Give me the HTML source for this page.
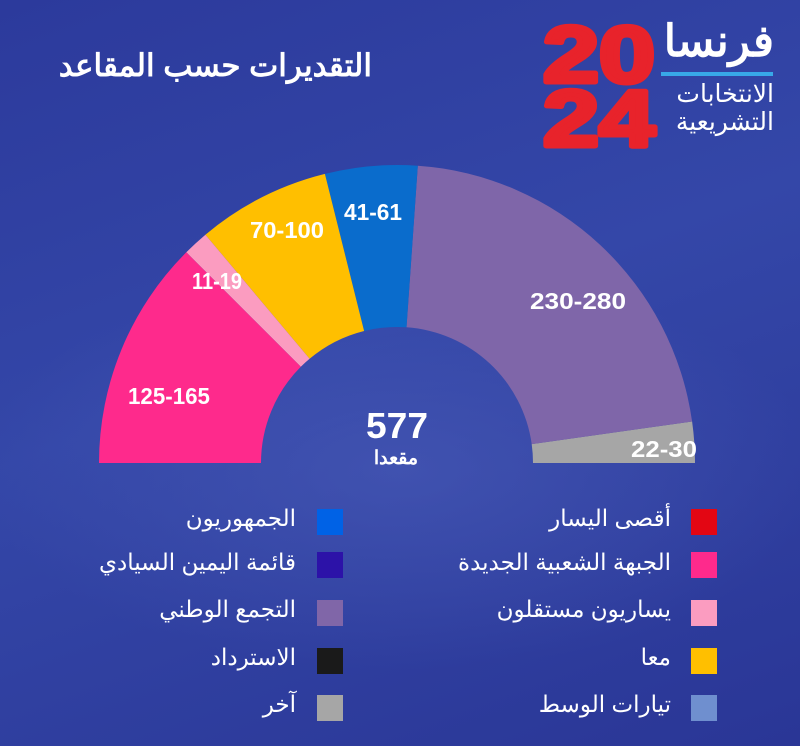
<!DOCTYPE html>
<html><head><meta charset="utf-8"><style>
html,body{margin:0;padding:0}
body{width:800px;height:746px;overflow:hidden;font-family:"Liberation Sans","Noto Sans CJK SC",sans-serif;background:linear-gradient(160deg,#2c3a9c 0%,#3447a8 45%,#2a3696 100%);position:relative;color:#fff}
.t{position:absolute;white-space:nowrap;direction:rtl}
.sq{position:absolute;width:26px;height:26px}
.lg{position:absolute;font-size:23px;text-align:right;direction:rtl;white-space:nowrap}
</style></head><body>
<svg width="800" height="746" style="position:absolute;left:0;top:0">
<defs><radialGradient id="g" cx="0.5" cy="0.5" r="0.5"><stop offset="0" stop-color="#4a5cb8"/><stop offset="1" stop-color="#4a5cb8" stop-opacity="0"/></radialGradient></defs>
<ellipse cx="400" cy="470" rx="420" ry="200" fill="url(#g)" opacity="0.6"/>
<path d="M695,463 A298,298 0 0 0 692.1,421.5 L531.7,444.1 A136,136 0 0 1 533,463 Z" fill="#a6a6a6"/>
<path d="M692.1,421.5 A298,298 0 0 0 417.8,165.7 L406.5,327.3 A136,136 0 0 1 531.7,444.1 Z" fill="#7f66a9"/>
<path d="M417.8,165.7 A298,298 0 0 0 324.9,173.9 L364.1,331 A136,136 0 0 1 406.5,327.3 Z" fill="#0a6ccc"/>
<path d="M324.9,173.9 A298,298 0 0 0 205.4,234.7 L309.6,358.8 A136,136 0 0 1 364.1,331 Z" fill="#ffbf00"/>
<path d="M205.4,234.7 A298,298 0 0 0 186.3,252.3 L300.8,366.8 A136,136 0 0 1 309.6,358.8 Z" fill="#fb9cc0"/>
<path d="M186.3,252.3 A298,298 0 0 0 99,463 L261,463 A136,136 0 0 1 300.8,366.8 Z" fill="#fe2a8c"/>
<g fill="#fff" font-family="Liberation Sans,sans-serif" font-weight="bold" font-size="23" text-anchor="middle">
<text x="169" y="404" textLength="82" lengthAdjust="spacingAndGlyphs">125-165</text>
<text x="217" y="289" textLength="50" lengthAdjust="spacingAndGlyphs">11-19</text>
<text x="287" y="238" textLength="74" lengthAdjust="spacingAndGlyphs">70-100</text>
<text x="373" y="220" textLength="58" lengthAdjust="spacingAndGlyphs">41-61</text>
<text x="578" y="309" textLength="96" lengthAdjust="spacingAndGlyphs">230-280</text>
<text x="664" y="457" textLength="66" lengthAdjust="spacingAndGlyphs">22-30</text>
<text x="397" y="438" font-size="36" textLength="62" lengthAdjust="spacingAndGlyphs">577</text>
<text x="396" y="464" font-size="19" font-family="Liberation Sans,Noto Sans CJK SC,sans-serif">مقعدا</text>
</g>
<rect x="661" y="72" width="112" height="4" fill="#38a8e8"/>
<g font-family="Liberation Sans,sans-serif" font-weight="bold" font-size="80" fill="#e8232b" stroke="#e8232b" stroke-width="5" stroke-linejoin="round">
<text x="543" y="82" textLength="112" lengthAdjust="spacingAndGlyphs">20</text>
<text x="543" y="146" textLength="112" lengthAdjust="spacingAndGlyphs">24</text>
</g>
</svg>
<div class="t" style="right:428px;top:48px;font-size:31px;font-weight:bold">التقديرات حسب المقاعد</div>
<div class="t" style="right:26px;top:14px;font-size:44px;font-weight:bold;line-height:56px">فرنسا</div>
<div class="t" style="right:26px;top:80px;font-size:25px;line-height:28px;text-align:right">الانتخابات<br>التشريعية</div>

<div class="sq" style="left:691px;top:509px;background:#e30613"></div>
<div class="sq" style="left:691px;top:552px;background:#fe2a8c"></div>
<div class="sq" style="left:691px;top:600px;background:#fb9cc0"></div>
<div class="sq" style="left:691px;top:648px;background:#ffbf00"></div>
<div class="sq" style="left:691px;top:695px;background:#6f8fcf"></div>
<div class="sq" style="left:317px;top:509px;background:#0062e6"></div>
<div class="sq" style="left:317px;top:552px;background:#2c12a8"></div>
<div class="sq" style="left:317px;top:600px;background:#8066a8"></div>
<div class="sq" style="left:317px;top:648px;background:#1a1a1a"></div>
<div class="sq" style="left:317px;top:695px;background:#a6a6a6"></div>

<div class="lg" style="right:129px;top:505px">أقصى اليسار</div>
<div class="lg" style="right:129px;top:549px">الجبهة الشعبية الجديدة</div>
<div class="lg" style="right:129px;top:596px">يساريون مستقلون</div>
<div class="lg" style="right:129px;top:644px">معا</div>
<div class="lg" style="right:129px;top:691px">تيارات الوسط</div>
<div class="lg" style="right:504px;top:505px">الجمهوريون</div>
<div class="lg" style="right:504px;top:549px">قائمة اليمين السيادي</div>
<div class="lg" style="right:504px;top:596px">التجمع الوطني</div>
<div class="lg" style="right:504px;top:644px">الاسترداد</div>
<div class="lg" style="right:504px;top:691px">آخر</div>
</body></html>
